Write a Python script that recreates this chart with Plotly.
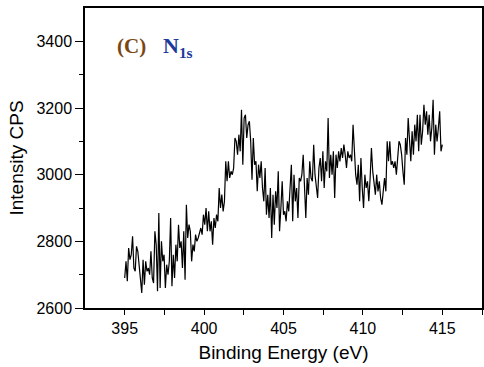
import plotly.graph_objects as go
import numpy as np

# Binding energy grid endpoints (eV)
energy_start = 395.0
energy_end = 415.0

# Intensity (CPS), in order of increasing binding energy
seg_395 = [2690, 2740, 2680, 2780, 2745, 2760, 2815, 2720, 2710, 2785, 2770, 2730]
seg_396 = [2700, 2645, 2745, 2670, 2740, 2710, 2720, 2700, 2770, 2690, 2675, 2830]
seg_397 = [2790, 2650, 2885, 2660, 2800, 2740, 2760, 2660, 2730, 2700, 2740, 2870]
seg_398 = [2665, 2760, 2690, 2790, 2740, 2850, 2780, 2800, 2720, 2830, 2685, 2910]
seg_399 = [2810, 2850, 2830, 2740, 2790, 2770, 2820, 2800, 2810, 2830, 2840, 2820]
seg_400 = [2880, 2850, 2900, 2830, 2890, 2830, 2860, 2790, 2870, 2840, 2880, 2860]
seg_401 = [2960, 2900, 2940, 2890, 2920, 3040, 2980, 3040, 2990, 3010, 3000, 3020]
seg_402 = [3110, 3100, 3060, 3120, 3070, 3195, 3030, 3170, 3180, 3110, 3150, 3160,
           3100, 2985, 3110, 3030]
seg_403 = [3040, 2950, 3030, 2990, 3040, 2960, 2920, 3020, 2880, 2940]
seg_404 = [2870, 2960, 2810, 2940, 2850, 2950, 2900, 3010, 2830, 2900, 2980, 2880, 2890]
seg_405 = [2860, 2920, 2890, 2950, 3030, 2860, 3000, 2920, 2960, 2870, 2990, 2980]
seg_406 = [3000, 3060, 2960, 2870, 2990, 2940, 3040, 2990, 2980, 3090, 3000, 2960]
seg_407 = [2930, 3020, 3050, 2980, 3070, 2960, 3040, 3010, 3170, 2990, 3060, 3000, 3070]
seg_408 = [2930, 3060, 3020, 3070, 3040, 3080, 3050, 3090, 3060, 3020, 3070, 3050]
seg_409 = [3060, 3040, 3150, 3050, 3000, 2970, 3030, 2920, 3050, 2960, 2900, 3000]
seg_410 = [2960, 2980, 2920, 2990, 3080, 3010, 2980, 2940, 3000, 2950, 2980, 2930]
seg_411 = [2910, 2960, 2990, 2950, 3100, 3040, 3100, 3030, 3040, 3020, 3040, 3000]
seg_412 = [3040, 3100, 3090, 3060, 3010, 2970, 3110, 3060, 3170, 3100, 3040]
seg_413 = [3130, 3060, 3150, 3100, 3180, 3070, 3180, 3090, 3130, 3210, 3150, 3190]
seg_414 = [3120, 3180, 3100, 3140, 3225, 3060, 3150, 3100, 3140, 3190, 3070, 3090]

intensity = (seg_395 + seg_396 + seg_397 + seg_398 + seg_399 + seg_400 + seg_401 +
             seg_402 + seg_403 + seg_404 + seg_405 + seg_406 + seg_407 + seg_408 +
             seg_409 + seg_410 + seg_411 + seg_412 + seg_413 + seg_414)
energy = np.linspace(energy_start, energy_end, len(intensity))

x_tickvals = [395, 400, 405, 410, 415]
y_tickvals = [2600, 2800, 3000, 3200, 3400]

fig = go.Figure()
fig.add_trace(go.Scatter(x=energy, y=intensity, mode="lines",
                         line=dict(color="black", width=1.2), showlegend=False))

axis_font = dict(family="Liberation Sans, Arial, sans-serif", size=16, color="black")
fig.update_layout(
    width=484, height=367,
    margin=dict(l=85, r=0, t=8, b=59),
    paper_bgcolor="white", plot_bgcolor="white",
    font=dict(family="Liberation Sans, Arial, sans-serif", color="black"),
    xaxis=dict(
        range=[392.5, 417.5], tickvals=x_tickvals, ticks="outside", ticklen=5,
        tickwidth=1.2, tickcolor="black", showline=True, linecolor="black",
        linewidth=1.5, mirror=True, showgrid=False, zeroline=False,
        tickfont=axis_font,
        minor=dict(tickvals=[397.5, 402.5, 407.5, 412.5, 417.5], ticks="outside",
                   ticklen=5, tickwidth=1.2, tickcolor="black", showgrid=False),
        title=dict(text="Binding Energy (eV)", font=dict(size=19), standoff=10),
    ),
    yaxis=dict(
        range=[2600, 3500], tickvals=y_tickvals, ticks="outside", ticklen=8,
        tickwidth=1.2, tickcolor="black", showline=True, linecolor="black",
        linewidth=1.5, mirror=True, showgrid=False, zeroline=False,
        tickfont=axis_font,
        minor=dict(tickvals=[2700, 2900, 3100, 3300], ticks="outside",
                   ticklen=4, tickwidth=1.2, tickcolor="black", showgrid=False),
        title=dict(text="Intensity CPS", font=dict(size=19), standoff=8),
    ),
)

fig.add_annotation(x=395.4, y=3386, xref="x", yref="y", text="<b>(C)</b>",
                   showarrow=False, xanchor="center", yanchor="middle",
                   font=dict(family="Liberation Serif, Times New Roman, serif",
                             size=21, color="#7a4714"))
fig.add_annotation(x=397.3, y=3383, xref="x", yref="y",
                   text="<b>N<sub>1s</sub></b>",
                   showarrow=False, xanchor="left", yanchor="middle",
                   font=dict(family="Liberation Serif, Times New Roman, serif",
                             size=22, color="#1c3a9a"))

fig.write_html(
    "out.html",
    config={"displayModeBar": False},
    post_script="document.body.style.margin='0';document.body.style.overflow='hidden';",
)
